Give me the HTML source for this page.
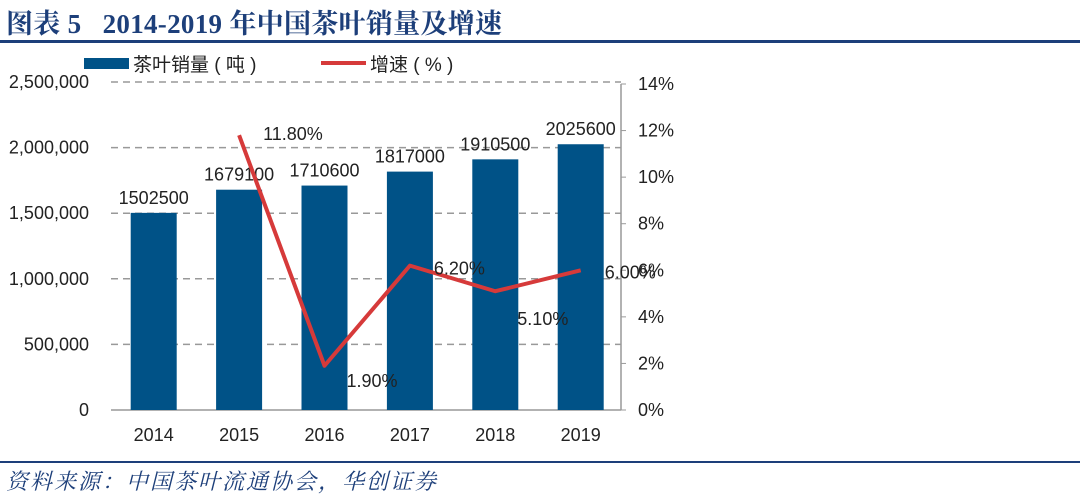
<!DOCTYPE html>
<html><head><meta charset="utf-8"><style>
html,body{margin:0;padding:0;background:#fff;}
body{width:1080px;height:496px;overflow:hidden;position:relative;font-family:"Liberation Sans","Noto Sans CJK SC",sans-serif;}
#title{position:absolute;left:6px;top:2px;font-family:"Liberation Serif","Noto Serif CJK SC",serif;font-weight:bold;font-size:27px;letter-spacing:0.3px;color:#1d3f7a;white-space:pre;}
.rule{position:absolute;left:0;width:1080px;height:3px;background:#1d3f7a;}
#src{position:absolute;left:6px;top:465px;font-family:"Liberation Serif","Noto Serif CJK SC",serif;font-style:italic;font-size:22px;letter-spacing:2px;color:#1d3f7a;}
svg{position:absolute;left:0;top:0;}
</style></head><body>
<div id="title">图表 5   2014-2019 年中国茶叶销量及增速</div>
<div class="rule" style="top:40px"></div>
<div class="rule" style="top:461px;height:2px"></div>
<div id="src">资料来源：中国茶叶流通协会，华创证券</div>
<svg id="chart" width="1080" height="496"></svg>
<script>
const categories=["2014","2015","2016","2017","2018","2019"];
const sales=[1502500,1679100,1710600,1817000,1910500,2025600];
const growth=[null,11.8,1.9,6.2,5.1,6.0];
const growthLabels=["","11.80%","1.90%","6.20%","5.10%","6.00%"];
const leftTicks=[0,500000,1000000,1500000,2000000,2500000];
const rightTicks=[0,2,4,6,8,10,12,14];

const NS="http://www.w3.org/2000/svg";
const svg=document.getElementById('chart');
const x0=111,x1=621,y0=410,y1=82;
const band=85.4;
const xc=i=>111+band*(i+0.5);
const yl=v=>y0-(v/2500000)*(y0-y1);
const yr=v=>y0-(v/14)*(y0-84);
function mk(t,a,txt){const e=document.createElementNS(NS,t);for(const k in a)e.setAttribute(k,a[k]);if(txt!==undefined)e.textContent=txt;svg.appendChild(e);return e;}
const fmt=v=>v.toLocaleString('en-US');

leftTicks.forEach(v=>{
  if(v>0){const g=mk('line',{x1:x0,x2:x1,y1:yl(v),y2:yl(v),stroke:'#999','stroke-width':1.5,'stroke-dasharray':'7,5'});
  
  }
  const t=mk('text',{x:89,y:yl(v)+6,'text-anchor':'end','font-size':18,fill:'#222'},fmt(v));
  
  
});
rightTicks.forEach(v=>{
  const t=mk('text',{x:638,y:yr(v)+6,'font-size':18,fill:'#222'},v+'%');
  
  
  const k=mk('line',{x1:x1,x2:x1+5,y1:yr(v),y2:yr(v),stroke:'#999','stroke-width':1});
  
  
});
const ax=mk('line',{x1:x0,x2:x1,y1:y0,y2:y0,stroke:'#999','stroke-width':1.5});


const ra=mk('line',{x1:x1,x2:x1,y1:84,y2:y0,stroke:'#999','stroke-width':1.5});



const bw=46;
sales.forEach((v,i)=>{
  const r=mk('rect',{x:xc(i)-bw/2,y:yl(v),width:bw,height:y0-yl(v),fill:'#005287'});
  
  
  const t=mk('text',{x:xc(i),y:yl(v)-9,'text-anchor':'middle','font-size':18,fill:'#222'},String(v));
  
  
  const c=mk('text',{x:xc(i),y:441,'text-anchor':'middle','font-size':18,fill:'#222'},categories[i]);
  
  
});

const pts=[];growth.forEach((v,i)=>{if(v!==null)pts.push([xc(i),yr(v),i]);});
const pl=mk('polyline',{points:pts.map(p=>p[0]+','+p[1]).join(' '),fill:'none',stroke:'#d63a3a','stroke-width':4,'stroke-linejoin':'round'});


const offs={1:[24,5],2:[22,21],3:[24,9],4:[22,34],5:[24,8]};
pts.forEach(p=>{
  const o=offs[p[2]];
  const t=mk('text',{x:p[0]+o[0],y:p[1]+o[1],'font-size':18,fill:'#222'},growthLabels[p[2]]);
  
  
});

// legend
const lr=mk('rect',{x:84,y:58,width:45,height:11,fill:'#005287'});


const lt=mk('text',{x:133,y:71,'font-size':19,fill:'#222'},'茶叶销量 ( 吨 )');


const ll=mk('line',{x1:321,x2:366,y1:63,y2:63,stroke:'#d63a3a','stroke-width':4});


const lt2=mk('text',{x:370,y:71,'font-size':19,fill:'#222'},'增速 ( % )');


</script>
</body></html>
